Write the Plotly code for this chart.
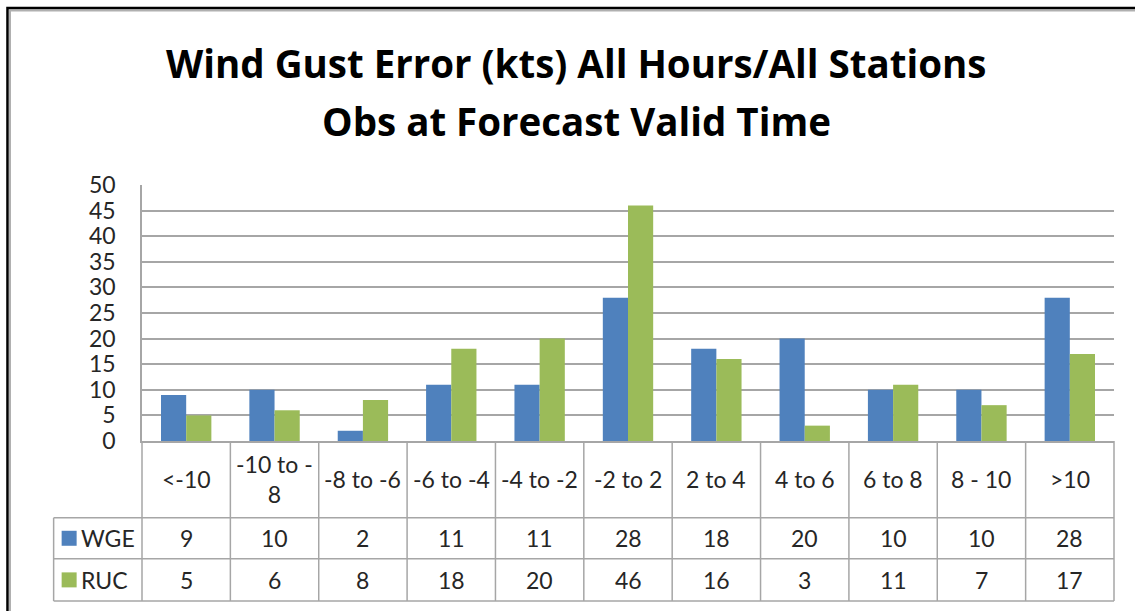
import plotly.graph_objects as go

categories = ["<-10", "-10 to -8", "-8 to -6", "-6 to -4", "-4 to -2", "-2 to 2",
              "2 to 4", "4 to 6", "6 to 8", "8 - 10", ">10"]
header_labels = ["<-10", "-10 to -<br>8", "-8 to -6", "-6 to -4", "-4 to -2", "-2 to 2",
                 "2 to 4", "4 to 6", "6 to 8", "8 - 10", ">10"]
wge = [9, 10, 2, 11, 11, 28, 18, 20, 10, 10, 28]
ruc = [5, 6, 8, 18, 20, 46, 16, 3, 11, 7, 17]
series_names = ["WGE", "RUC"]
colors = ["#4F81BD", "#9BBB59"]
y_ticks = [0, 5, 10, 15, 20, 25, 30, 35, 40, 45, 50]
title_lines = ["Wind Gust Error (kts) All Hours/All Stations", "Obs at Forecast Valid Time"]

FONT = "Lato"
TFONT = "Open Sans"
GRID = "#a6a6a6"
TXT = "#262626"

n = len(categories)
xs = list(range(n))


def xpaper(xd):
    # convert category coordinate to paper coordinate (x range is [-0.5, n-0.5])
    return (xd + 0.5) / n


fig = go.Figure()
for name, vals, col in zip(series_names, [wge, ruc], colors):
    fig.add_trace(go.Bar(x=xs, y=vals, name=name, marker=dict(color=col, line=dict(width=0)),
                         showlegend=False, hoverinfo="skip"))

# table geometry (paper y for row boundaries)
row_top = 0.0
row_hdr_bot = -0.30
row_wge_bot = -0.46
row_ruc_bot = -0.625

shapes = []
line = dict(color=GRID, width=1.5)
for i in range(n + 1):
    xv = xpaper(i - 0.5)
    shapes.append(dict(type="line", xref="paper", yref="paper", x0=xv, x1=xv,
                       y0=row_top, y1=row_ruc_bot, line=line))
shapes.append(dict(type="line", xref="paper", yref="paper", x0=xpaper(-1.5), x1=xpaper(-1.5),
                   y0=row_hdr_bot, y1=row_ruc_bot, line=line))
for yv in [row_hdr_bot, row_wge_bot, row_ruc_bot]:
    shapes.append(dict(type="line", xref="paper", yref="paper", x0=xpaper(-1.5), x1=xpaper(n - 0.5),
                       y0=yv, y1=yv, line=line))

annotations = []
tfont = dict(family=FONT, size=23, color=TXT)
for i, lab in enumerate(header_labels):
    annotations.append(dict(x=xpaper(i), y=(row_top + row_hdr_bot) / 2, xref="paper", yref="paper",
                            text=lab, showarrow=False, font=tfont, xanchor="center",
                            align="center", yanchor="middle"))
for (name, vals, col, ytop, ybot) in [
        (series_names[0], wge, colors[0], row_hdr_bot, row_wge_bot),
        (series_names[1], ruc, colors[1], row_wge_bot, row_ruc_bot)]:
    yc = (ytop + ybot) / 2
    for i, v in enumerate(vals):
        annotations.append(dict(x=xpaper(i), y=yc, xref="paper", yref="paper", text=str(v),
                                showarrow=False, font=tfont, xanchor="center", yanchor="middle"))
    shapes.append(dict(type="rect", xref="paper", yref="paper", xsizemode="pixel", ysizemode="pixel",
                       xanchor=xpaper(-1.5), yanchor=yc, x0=8, x1=23, y0=-7.5, y1=7.5,
                       fillcolor=col, line=dict(width=0)))
    annotations.append(dict(x=xpaper(-1.5), y=yc, xref="paper", yref="paper", text=name, xshift=25,
                            xanchor="left", yanchor="middle", showarrow=False, font=tfont))

# outer chart frame
shapes.append(dict(type="rect", xref="paper", yref="paper", x0=-0.1358, x1=1.05,
                   y0=-0.8, y1=1.682, line=dict(color="#b0b0b0", width=2)))
shapes.append(dict(type="rect", xref="paper", yref="paper", x0=-0.1384, x1=1.06,
                   y0=-0.85, y1=1.6914, line=dict(color="black", width=2.5)))

# title (two lines)
for txt, yv in zip(title_lines, [1.4766, 1.25]):
    annotations.append(dict(x=0.447, y=yv, xref="paper", yref="paper", text=txt, showarrow=False,
                            font=dict(family=TFONT, size=38.5, color="black", weight="bold"),
                            xanchor="center", yanchor="middle"))

fig.update_layout(
    width=1135, height=611,
    margin=dict(l=142, r=21, t=185, b=170),
    paper_bgcolor="white", plot_bgcolor="white",
    barmode="group", bargap=0.43, bargroupgap=0.0,
    shapes=shapes, annotations=annotations,
    xaxis=dict(range=[-0.5, n - 0.5], showticklabels=False, showgrid=False, zeroline=False,
               showline=True, linecolor=GRID, linewidth=1.5, ticks="", automargin=False),
    yaxis=dict(range=[0, 50], tickvals=y_ticks, showgrid=True, gridcolor=GRID, gridwidth=1.5,
               zeroline=False, showline=True, linecolor=GRID, linewidth=1.5, ticks="",
               ticklabelstandoff=20, automargin=False,
               tickfont=dict(family=FONT, size=23, color=TXT)),
)

fig.write_html("out.html", config={"displayModeBar": False},
               post_script="document.body.style.margin='0';")
